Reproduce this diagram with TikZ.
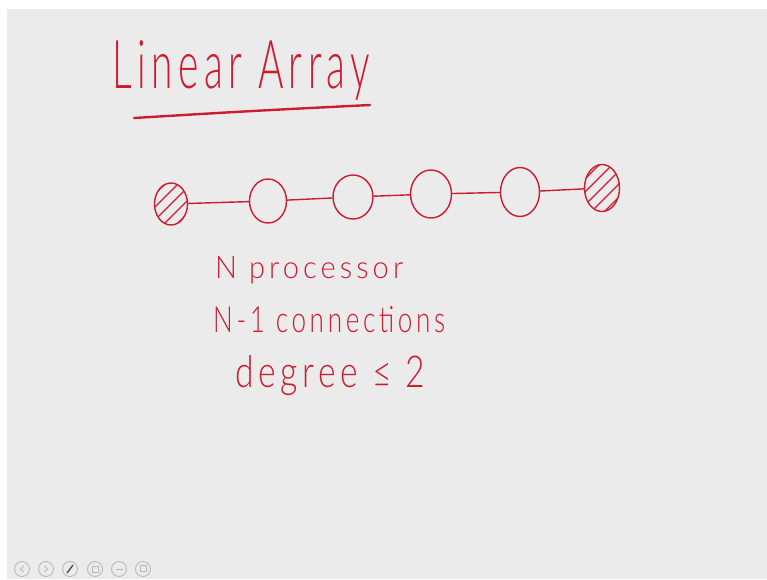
\documentclass[tikz,border=0pt]{standalone}
\usepackage{fontspec}
\setmainfont{Lato Light}
\newfontfamily\handfont[LetterSpace=14]{Lato Light}
\usetikzlibrary{shapes.geometric}
\definecolor{ink}{RGB}{205,28,48}
\definecolor{board}{RGB}{235,235,235}
\definecolor{iconc}{RGB}{185,185,185}
\tikzset{
  pe/.style={draw=ink, line width=1.4pt, ellipse, inner sep=0pt},
  hatched/.style={pe, path picture={
     \foreach \i in {-2,...,2}
       \draw[ink, line width=1.2pt] ([shift={(-30pt,\i*13pt-30pt)}]path picture bounding box.center) -- ++(60pt,60pt);}},
  wire/.style={draw=ink, line width=1.4pt},
  txt/.style={anchor=base west, inner sep=0pt, text=ink, font=\handfont},
  icon/.style={draw=iconc, line width=0.9pt, circle, minimum size=15pt, inner sep=0pt}
}
\begin{document}
\begin{tikzpicture}[x=1pt,y=-1pt]
\useasboundingbox (0,0) rectangle (767,579);
\fill[white] (0,0) rectangle (767,579);
\fill[board] (7,9) rectangle (767,579);

% title
\node[txt] (title) at (112,88) {\resizebox{258pt}{48pt}{Linear Array}};
\coordinate (u1) at (134,118);
\coordinate (u2) at (370,105);
\draw[ink, line width=2.4pt, line cap=round] (u1) .. controls (250,111) .. (u2);

% nodes
\node[hatched, minimum width=33pt, minimum height=42pt] (p1) at (171,204) {};
\node[pe, minimum width=37pt, minimum height=44pt] (p2) at (268,201) {};
\node[pe, minimum width=40pt, minimum height=44pt] (p3) at (353,197) {};
\node[pe, minimum width=41pt, minimum height=48pt] (p4) at (431,194) {};
\node[pe, minimum width=39pt, minimum height=49pt] (p5) at (520,192) {};
\node[hatched, minimum width=35pt, minimum height=47pt] (p6) at (602,188) {};

\draw[wire] (p1) -- (p2);
\draw[wire] (p2) -- (p3);
\draw[wire] (p3) -- (p4);
\draw[wire] (p4) -- (p5);
\draw[wire] (p5) -- (p6);

% notes
\node[txt] (l1) at (215,278) {\resizebox{188pt}{22pt}{N processor}};
\node[txt] (l2) at (213,332) {\resizebox{232pt}{26pt}{N-1 connections}};
\node[txt] (l3) at (235,387) {\resizebox{190pt}{32pt}{degree ≤ 2}};

% toolbar
\node[icon] (i1) at (22,569) {};
\node[icon] (i2) at (46,569) {};
\node[icon] (i3) at (70,569) {};
\node[icon] (i4) at (95,569) {};
\node[icon] (i5) at (119,569) {};
\node[icon] (i6) at (143,569) {};
\draw[iconc, line width=0.9pt] ([shift={(1.5pt,3pt)}]i1.center) -- ++(-3pt,-3pt) -- ++(3pt,-3pt);
\draw[iconc, line width=0.9pt] ([shift={(-1.5pt,3pt)}]i2.center) -- ++(3pt,-3pt) -- ++(-3pt,-3pt);
\draw[black!70, line width=1.4pt] ([shift={(-3pt,-4pt)}]i3.center) -- ++(6pt,8pt);
\draw[iconc, line width=0.9pt] ([shift={(-3pt,-3pt)}]i4.center) rectangle ++(6pt,6pt);
\draw[iconc, line width=0.9pt] ([shift={(-3.5pt,0pt)}]i5.center) -- ++(7pt,0pt);
\draw[iconc, line width=0.9pt] ([shift={(-3pt,-2pt)}]i6.center) rectangle ++(6pt,6pt);
\end{tikzpicture}
\end{document}
